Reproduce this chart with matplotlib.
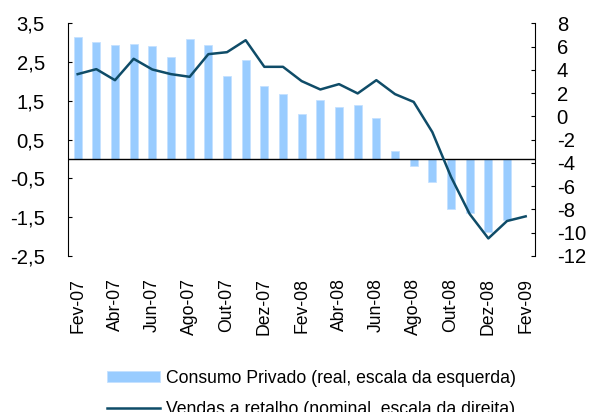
import numpy as np
import matplotlib.pyplot as plt

plt.rcParams['font.family'] = ['Liberation Sans', 'DejaVu Sans']
plt.rcParams['axes.unicode_minus'] = False

# monthly categories, Fev-07 .. Fev-09
months = ['Fev-07', 'Mar-07', 'Abr-07', 'Mai-07', 'Jun-07', 'Jul-07', 'Ago-07',
          'Set-07', 'Out-07', 'Nov-07', 'Dez-07', 'Jan-08', 'Fev-08', 'Mar-08',
          'Abr-08', 'Mai-08', 'Jun-08', 'Jul-08', 'Ago-08', 'Set-08', 'Out-08',
          'Nov-08', 'Dez-08', 'Jan-09', 'Fev-09']

# private consumption (left axis), no value for Fev-09
consumo = [3.15, 3.01, 2.95, 2.97, 2.93, 2.64, 3.10, 2.94, 2.15, 2.56, 1.89, 1.68,
           1.17, 1.53, 1.34, 1.39, 1.07, 0.21, -0.19, -0.59, -1.29, -1.39, -1.89, -1.57]

# retail sales (right axis)
vendas = [3.64, 4.07, 3.12, 4.96, 4.04, 3.64, 3.41, 5.36, 5.53, 6.56, 4.27, 4.27,
          3.04, 2.32, 2.78, 1.98, 3.12, 1.92, 1.25, -1.35, -5.2, -8.4, -10.5, -9.0, -8.6]

left_ticks = [-2.5, -1.5, -0.5, 0.5, 1.5, 2.5, 3.5]
right_ticks = [-12, -10, -8, -6, -4, -2, 0, 2, 4, 6, 8]

fig, ax = plt.subplots(figsize=(5.9, 4.12), dpi=100)
fig.subplots_adjust(left=0.1158, right=0.9068, top=0.943, bottom=0.379)

x = np.arange(len(months))
bars = ax.bar(x[:len(consumo)], consumo, width=0.43, color='#99CCFF',
              edgecolor='#C4E1FF', linewidth=0.6,
              label='Consumo Privado (real, escala da esquerda)')
ax.axhline(0, color='black', lw=1)
ax.set_xlim(-0.5, len(months) - 0.5)
ax.set_ylim(-2.5, 3.5)
ax.set_yticks(left_ticks)
ax.set_yticklabels([f'{v:.1f}'.replace('.', ',') for v in left_ticks])
ax.set_xticks(x[::2])
ax.set_xticklabels(months[::2], rotation=90, fontsize=12.7)
ax.tick_params(axis='x', length=0, pad=15.8)
ax.tick_params(axis='y', direction='in', length=3, labelsize=14.6, pad=16.8)
for s in ['top', 'bottom', 'right']:
    ax.spines[s].set_visible(False)

ax2 = ax.twinx()
line, = ax2.plot(x, vendas, color='#0F4C68', lw=1.8,
                 label='Vendas a retalho (nominal, escala da direita)')
ax2.set_ylim(-12, 8)
ax2.set_yticks(right_ticks)
ax2.tick_params(axis='y', direction='in', length=3, labelsize=14.6, pad=15.6)
for s in ['top', 'bottom', 'left']:
    ax2.spines[s].set_visible(False)

fig.legend(handles=[bars, line], loc='center left', frameon=False,
           bbox_to_anchor=(107 / 590, 0.0437), bbox_transform=fig.transFigure,
           fontsize=12.7, handlelength=3.0, handleheight=0.55, handletextpad=0.34,
           labelspacing=0.8, borderpad=0, borderaxespad=0)

plt.savefig('out.png', dpi=100)
